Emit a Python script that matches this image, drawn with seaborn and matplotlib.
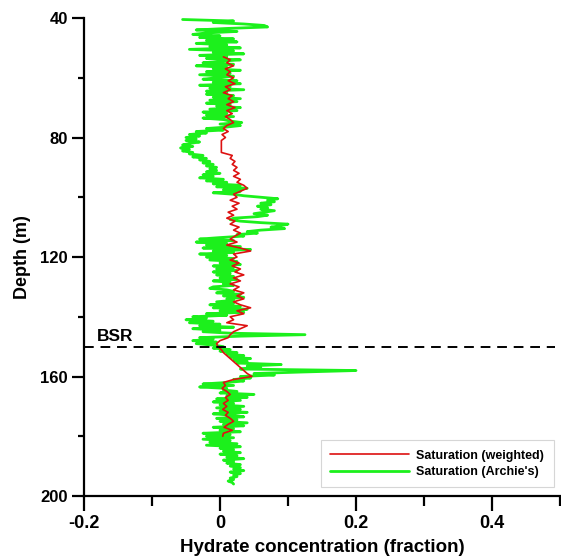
import numpy as np
import pandas as pd
import matplotlib
matplotlib.use("Agg")
import matplotlib.pyplot as plt
import seaborn as sns
from matplotlib.ticker import MultipleLocator

# ---------------- data ----------------
# Archie's saturation, sampled every 0.5 m from 40.5 m to 196 m
archie_depth = np.arange(40.5, 196.01, 0.5)
archie_sat = [
    -0.055, 0.02, -0.01, 0.035, 0.065, 0.07, 0.01, -0.035, 0.025, -0.02,
    -0.04, 0.0, -0.03, 0.02, -0.02, 0.025, -0.035, 0.01, -0.015, 0.03,
    -0.045, 0.02, -0.01, 0.035, -0.03, 0.01, -0.02, 0.03, 0.0, -0.025,
    0.02, -0.035, 0.01, -0.01, 0.03, -0.02, 0.015, -0.03, 0.02, -0.005,
    -0.025, 0.025, -0.01, 0.03, -0.03, 0.015, -0.015, 0.035, -0.02, 0.01,
    -0.02, 0.02, -0.01, 0.03, -0.015, 0.025, -0.02, 0.015, -0.005, 0.03,
    -0.015, 0.025, -0.025, 0.01, -0.02, 0.02, -0.025, 0.005, 0.015, 0.032,
    0.0, 0.03, 0.01, -0.02, 0.005, -0.035, -0.02, -0.045, -0.03, -0.05,
    -0.035, -0.05, -0.03, -0.045, -0.055, -0.04, -0.058, -0.045, -0.055, -0.04,
    -0.045, -0.025, -0.04, -0.02, -0.03, -0.015, -0.025, -0.01, -0.02, -0.005,
    -0.015, -0.005, -0.02, 0.0, -0.025, -0.01, -0.03, 0.005, -0.02, 0.01,
    -0.01, 0.03, -0.005, 0.04, 0.005, 0.03, -0.01, 0.02, 0.035, 0.06,
    0.085, 0.07, 0.08, 0.06, 0.075, 0.055, 0.07, 0.06, 0.08, 0.065,
    0.05, 0.07, 0.055, 0.02, 0.015, 0.03, 0.06, 0.1, 0.09, 0.075,
    0.095, 0.06, 0.04, 0.055, 0.025, 0.035, 0.0, -0.03, 0.02, -0.035,
    0.01, -0.02, 0.03, -0.025, 0.045, -0.01, 0.02, -0.03, 0.01, -0.02,
    0.02, -0.015, 0.025, 0.0, 0.03, -0.01, 0.02, -0.005, 0.025, -0.01,
    0.015, -0.005, 0.02, 0.0, 0.025, -0.01, 0.015, 0.005, 0.02, -0.01,
    -0.015, 0.01, 0.02, -0.005, 0.03, 0.005, 0.035, 0.01, 0.02, -0.005,
    0.02, -0.015, 0.03, -0.01, 0.04, 0.0, 0.035, -0.02, 0.01, -0.04,
    -0.02, -0.05, -0.01, -0.045, 0.0, -0.03, 0.02, -0.04, 0.0, -0.025,
    0.015, 0.125, 0.03, -0.03, -0.01, -0.04, -0.005, -0.035, -0.01, 0.005,
    -0.01, 0.015, 0.0, 0.025, 0.01, 0.035, 0.015, 0.045, 0.02, 0.04,
    0.025, 0.09, 0.04, 0.06, 0.03, 0.2, 0.12, 0.05, 0.08, 0.03,
    0.045, 0.02, 0.035, 0.01, -0.025, 0.02, -0.03, 0.01, 0.005, 0.025,
    0.0, 0.05, 0.01, 0.04, -0.005, 0.03, -0.01, 0.02, 0.0, 0.035,
    -0.005, 0.03, 0.0, 0.04, -0.01, 0.02, 0.035, -0.005, 0.025, 0.0,
    0.04, 0.005, 0.035, -0.01, 0.02, 0.0, 0.03, -0.025, 0.015, -0.02,
    0.02, -0.025, 0.015, -0.015, 0.025, -0.02, 0.03, 0.0, 0.02, 0.005,
    0.03, 0.0, 0.025, 0.01, 0.035, 0.005, 0.02, 0.01, 0.03, 0.015,
    0.03, 0.02, 0.035, 0.015, 0.03, 0.02, 0.025, 0.015, 0.02, 0.012, 0.018, 0.02,
]

# Weighted saturation, sampled every 1 m from 53 m to 180 m
weighted_depth = np.arange(53, 180.01, 1.0)
weighted_sat = [
    0.005, 0.015, 0.01, 0.02, 0.008, 0.015, 0.01, 0.02, 0.012, 0.022,
    0.008, 0.015, 0.005, 0.018, 0.012, 0.02, 0.01, 0.022, 0.01, 0.018,
    0.008, 0.015, 0.02, 0.01, 0.005, 0.012, 0.003, 0.008, 0.002, 0.002,
    0.002, 0.002, 0.002, 0.018, 0.015, 0.022, 0.018, 0.025, 0.02, 0.028,
    0.02, 0.03, 0.025, 0.035, 0.04, 0.03, 0.02, 0.025, 0.015, 0.028,
    0.018, 0.025, 0.012, 0.02, 0.01, 0.022, 0.015, 0.028, 0.02, 0.03,
    0.022, 0.015, 0.025, 0.01, 0.03, 0.045, 0.02, 0.025, 0.015, 0.028,
    0.018, 0.03, 0.022, 0.035, 0.02, 0.03, 0.015, 0.028, 0.02, 0.035,
    0.025, 0.035, 0.02, 0.03, 0.045, 0.025, 0.035, 0.015, 0.02, 0.01,
    0.04, 0.03, 0.02, 0.015, 0.012, 0.0, -0.005, -0.003, 0.002, 0.005,
    0.01, 0.015, 0.02, 0.025, 0.03, 0.035, 0.04, 0.047, 0.02, 0.005,
    0.008, 0.003, 0.01, 0.015, 0.008, 0.012, 0.005, 0.01, 0.004, 0.012,
    0.008, 0.015, 0.02, 0.012, 0.006, 0.018, 0.005, 0.004,
]

bsr_depth = 150
x_ticks = [-0.2, 0, 0.2, 0.4]
x_tick_labels = ["-0.2", "0", "0.2", "0.4"]
y_ticks = [40, 80, 120, 160, 200]

# ---------------- plotting ----------------
sns.set_style("ticks")
plt.rcParams["font.family"] = ["Liberation Sans", "DejaVu Sans"]
plt.rcParams["font.weight"] = "bold"
plt.rcParams["text.color"] = "black"
plt.rcParams["axes.labelcolor"] = "black"
plt.rcParams["xtick.color"] = "black"
plt.rcParams["ytick.color"] = "black"

fig = plt.figure(figsize=(5.61, 5.60), dpi=100)
ax = fig.add_axes([84 / 561, 1 - 496 / 560, 476 / 561, 478 / 560])

df_a = pd.DataFrame({"depth": archie_depth, "sat": archie_sat})
df_w = pd.DataFrame({"depth": weighted_depth, "sat": weighted_sat})

green = "#1cf01c"
red = "#dd1111"

sns.lineplot(data=df_a, x="sat", y="depth", sort=False, estimator=None,
             color=green, lw=2.0, ax=ax, label="Saturation (Archie's)", zorder=2)
sns.lineplot(data=df_w, x="sat", y="depth", sort=False, estimator=None,
             color=red, lw=1.2, ax=ax, label="Saturation (weighted)", zorder=3)

ax.axhline(bsr_depth, xmax=0.99, color="black", lw=1.4, ls=(0, (5, 3.5)), zorder=4)
ax.text(-0.181, bsr_depth - 1.0, "BSR", fontsize=12.5, fontweight="bold",
        ha="left", va="bottom", color="black")

ax.set_xlim(-0.2, 0.5)
ax.set_ylim(200, 40)
ax.set_xticks(x_ticks)
ax.set_xticklabels(x_tick_labels)
ax.set_yticks(y_ticks)
ax.xaxis.set_minor_locator(MultipleLocator(0.1))
ax.yaxis.set_minor_locator(MultipleLocator(20))

for s in ["top", "right"]:
    ax.spines[s].set_visible(False)
for s in ["left", "bottom"]:
    ax.spines[s].set_linewidth(1.6)
    ax.spines[s].set_color("black")

ax.tick_params(axis="x", which="major", direction="out", length=11, width=1.6,
               labelsize=13, pad=3, color="black", labelcolor="black")
ax.tick_params(axis="x", which="minor", direction="out", length=7, width=1.6,
               color="black")
ax.tick_params(axis="y", which="major", direction="out", length=8.5, width=1.6,
               labelsize=12, pad=3, color="black", labelcolor="black")
ax.tick_params(axis="y", which="minor", direction="out", length=4.5, width=1.6,
               color="black")
for lab in ax.get_xticklabels() + ax.get_yticklabels():
    lab.set_fontweight("bold")

ax.set_xlabel("Hydrate concentration (fraction)", fontsize=13.5,
              fontweight="bold", labelpad=5, color="black")
ax.set_ylabel("Depth (m)", fontsize=13, fontweight="bold", labelpad=7, color="black")

h, l = ax.get_legend_handles_labels()
leg = ax.legend(h[::-1], l[::-1], loc="lower right", bbox_to_anchor=(1.0, 0.005),
                fontsize=9, handlelength=6.3, handletextpad=0.6, frameon=True,
                fancybox=False, edgecolor="#cccccc", borderpad=0.75,
                labelspacing=0.35)
for t in leg.get_texts():
    t.set_fontweight("bold")
    t.set_color("black")
leg.get_frame().set_linewidth(0.8)

fig.savefig("out.png", dpi=100)
